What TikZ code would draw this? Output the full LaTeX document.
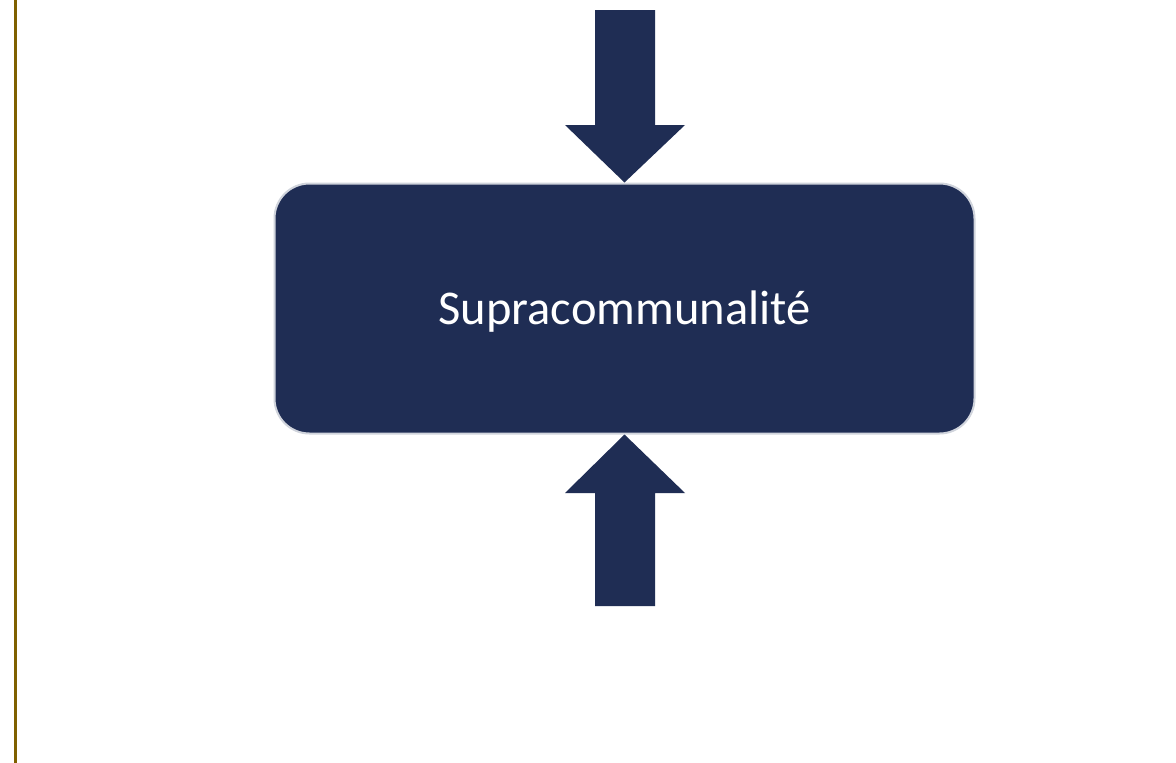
\documentclass[tikz,border=0pt]{standalone}
\usepackage{fontspec}
\setmainfont{Carlito}
\definecolor{navy}{HTML}{1F2D54}
\definecolor{edgegray}{HTML}{D0D4DC}
\definecolor{olive}{HTML}{7F6000}
\begin{document}
\begin{tikzpicture}[x=1pt,y=-1pt,
  blockarrow/.style={fill=navy,draw=none},
  mainbox/.style={draw=edgegray,line width=2pt,fill=navy,rounded corners=35pt,
    minimum width=700pt,minimum height=250pt,inner sep=0pt,
    font=\fontsize{48.5}{58}\selectfont}]
\useasboundingbox (0,0) rectangle (1176,763);
\fill[white] (0,0) rectangle (1176,763);
\draw[olive,line width=3pt] (15,0) -- (15,763);
\node[mainbox] (box) at (624.5,308.5) {};
\node[text=white,font=\fontsize{48.5}{58}\selectfont,inner sep=0pt] (label) at (624.5,311.5) {Supracommunalité};
\coordinate (toptip) at (box.north);
\coordinate (bottip) at (box.south);
\fill[blockarrow] (595,10) -- (655,10) -- (655,125) -- (685,125) -- (toptip) -- (565,125) -- (595,125) -- cycle;
\fill[blockarrow] (595,606) -- (655,606) -- (655,493) -- (685,493) -- (bottip) -- (565,493) -- (595,493) -- cycle;
\end{tikzpicture}
\end{document}
